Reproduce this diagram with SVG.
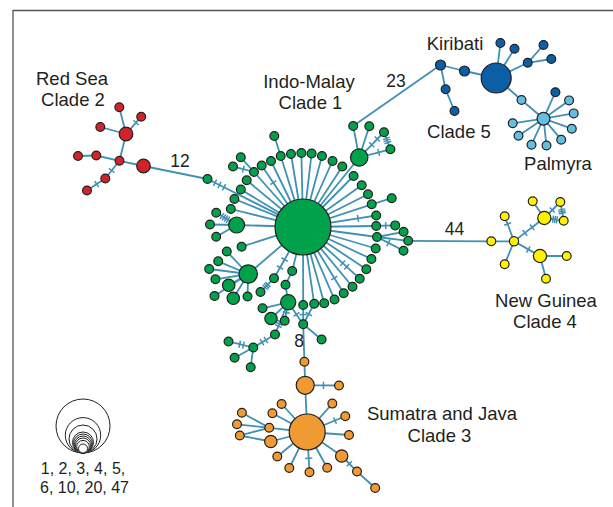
<svg xmlns="http://www.w3.org/2000/svg" width="613" height="507" viewBox="0 0 613 507">
<style>
.ln{stroke:#3f91b5;stroke-width:1.8;fill:none;stroke-linecap:round}
.tk{marker-mid:url(#tick)}
circle{stroke:#231f20;stroke-width:1.2}
.g{fill:#00a14b}.r{fill:#d2232a}.o{fill:#ef9a32}.b{fill:#0b5fa5}.c{fill:#63bfe0}.y{fill:#fff200}
.lg circle{fill:#fff;stroke-width:1}
text{font-family:"Liberation Sans",Arial,sans-serif;fill:#231f20;text-anchor:middle}
.lab{font-size:18.5px}.num{font-size:17.5px}.key{font-size:16px}
</style>
<defs>
<marker id="tick" viewBox="-4 -4 8 8" markerWidth="8" markerHeight="8" markerUnits="userSpaceOnUse" orient="auto"><path d="M0,-3.6V3.6" stroke="#3f91b5" stroke-width="1.5"/></marker>
</defs>
<rect width="613" height="507" fill="#fff"/>
<path d="M13,507V10.5H613" fill="none" stroke="#555" stroke-width="1.3"/>

<g id="connectors">
<!-- Red Sea -->
<line class="ln" x1="126" y1="134" x2="119.3" y2="107.3"/>
<polyline class="ln tk" points="126,134 136,122.6 141.2,116.7"/>
<line class="ln" x1="126" y1="134" x2="100.3" y2="127"/>
<line class="ln" x1="126" y1="134" x2="119.5" y2="160.8"/>
<line class="ln" x1="119.5" y1="160.8" x2="96.3" y2="155.5"/>
<line class="ln" x1="96.3" y1="155.5" x2="78" y2="156"/>
<line class="ln" x1="119.5" y1="160.8" x2="143.5" y2="166"/>
<polyline class="ln tk" points="119.5,160.8 111.7,170.5 105.3,178.5"/>
<polyline class="ln tk" points="105.3,178.5 96.7,184.1 87,190.5"/>
<line class="ln" x1="143.5" y1="166" x2="207.5" y2="179"/>
<!-- Indo-Malay: hub spokes -->
<polyline class="ln tk" points="207.5,179 215,182.8 219.5,185 224,187.3 303,227"/>
<line class="ln" x1="303" y1="227" x2="271" y2="161"/>
<line class="ln" x1="303" y1="227" x2="280.7" y2="156"/>
<line class="ln" x1="303" y1="227" x2="291" y2="154"/>
<line class="ln" x1="303" y1="227" x2="301.4" y2="153"/>
<line class="ln" x1="303" y1="227" x2="311.6" y2="153.5"/>
<line class="ln" x1="303" y1="227" x2="322" y2="156"/>
<line class="ln" x1="303" y1="227" x2="332.5" y2="161"/>
<line class="ln" x1="303" y1="227" x2="342.3" y2="166.5"/>
<polyline class="ln tk" points="303,227 273.3,182.7 261.7,165.5"/>
<line class="ln" x1="303" y1="227" x2="254" y2="172"/>
<line class="ln" x1="303" y1="227" x2="246.7" y2="180.3"/>
<line class="ln" x1="303" y1="227" x2="240.8" y2="189.5"/>
<line class="ln" x1="303" y1="227" x2="234.4" y2="199"/>
<line class="ln" x1="303" y1="227" x2="230.8" y2="209"/>
<line class="ln" x1="303" y1="227" x2="236.6" y2="225"/>
<line class="ln" x1="303" y1="227" x2="241.6" y2="246.7"/>
<line class="ln" x1="303" y1="227" x2="248.2" y2="274"/>
<polyline class="ln tk" points="303,227 284.6,259.5 280.1,267.5 274,278.3"/>
<line class="ln" x1="303" y1="227" x2="292.2" y2="271"/>
<line class="ln" x1="303" y1="227" x2="303.2" y2="305"/>
<line class="ln" x1="303" y1="227" x2="314.2" y2="303.8"/>
<line class="ln" x1="303" y1="227" x2="324.2" y2="303.3"/>
<line class="ln" x1="303" y1="227" x2="334.5" y2="299.5"/>
<polyline class="ln tk" points="303,227 334.3,278 343.7,293.2"/>
<line class="ln" x1="303" y1="227" x2="352.5" y2="286.8"/>
<polyline class="ln tk" points="303,227 342.7,263.2 346.7,266.8 359.7,278.7"/>
<line class="ln" x1="303" y1="227" x2="366.3" y2="269.3"/>
<line class="ln" x1="303" y1="227" x2="371.4" y2="259"/>
<line class="ln" x1="303" y1="227" x2="375.7" y2="248.5"/>
<line class="ln" x1="303" y1="227" x2="377" y2="237"/>
<line class="ln" x1="303" y1="227" x2="376.2" y2="226"/>
<polyline class="ln tk" points="303,227 358,218.4 376.2,215.5"/>
<line class="ln" x1="303" y1="227" x2="371.7" y2="204.3"/>
<line class="ln" x1="303" y1="227" x2="368" y2="194.3"/>
<line class="ln" x1="303" y1="227" x2="361.7" y2="185.3"/>
<line class="ln" x1="303" y1="227" x2="353.6" y2="176"/>
<line class="ln" x1="303" y1="227" x2="359.2" y2="157.5"/>
<!-- Indo-Malay: side branches -->
<line class="ln" x1="274.3" y1="136" x2="280.7" y2="156"/>
<line class="ln" x1="240.8" y1="157.3" x2="254" y2="172"/>
<polyline class="ln tk" points="233,166.5 243.3,169.2 254,172"/>
<polyline class="ln tk" points="216.2,212.7 221.9,216.1 223.95,217.4 226,218.6 228,219.8 236.6,225"/>
<line class="ln" x1="210" y1="224.5" x2="236.6" y2="225"/>
<line class="ln" x1="216.2" y1="236.7" x2="236.6" y2="225"/>
<line class="ln" x1="226.8" y1="251.5" x2="248.2" y2="274"/>
<line class="ln" x1="218.2" y1="261.3" x2="248.2" y2="274"/>
<line class="ln" x1="209.2" y1="269" x2="248.2" y2="274"/>
<line class="ln" x1="215.4" y1="279.3" x2="248.2" y2="274"/>
<line class="ln" x1="228.7" y1="285.3" x2="248.2" y2="274"/>
<line class="ln" x1="214.5" y1="296" x2="248.2" y2="274"/>
<line class="ln" x1="233.3" y1="298.3" x2="248.2" y2="274"/>
<line class="ln" x1="247.5" y1="296.5" x2="248.2" y2="274"/>
<polyline class="ln tk" points="260.5,292 265.2,287.2 266.6,285.8 267.9,284.5 274,278.3"/>
<line class="ln" x1="285.5" y1="284.8" x2="292.2" y2="271"/>
<line class="ln" x1="288.2" y1="302.3" x2="285.5" y2="284.8"/>
<line class="ln" x1="288.2" y1="302.3" x2="262.5" y2="308.3"/>
<line class="ln" x1="288.2" y1="302.3" x2="271" y2="318.5"/>
<polyline class="ln tk" points="288.2,302.3 286.3,312.5 284.7,320.8"/>
<polyline class="ln tk" points="288.2,302.3 280.3,321.6 279.4,323.9 278.4,326.1 275,334.5"/>
<polyline class="ln tk" points="275,334.5 265.9,340 262,342.3 253.3,347.5"/>
<polyline class="ln tk" points="253.3,347.5 243.4,345.1 239.7,344.2 228.5,341.5"/>
<line class="ln" x1="253.3" y1="347.5" x2="234.6" y2="357.7"/>
<line class="ln" x1="253.3" y1="347.5" x2="250.7" y2="367.2"/>
<polyline class="ln tk" points="303.2,324.3 303.2,314.6 303.2,305"/>
<polyline class="ln tk" points="303.2,324.3 308.7,314.05 314.2,303.8"/>
<polyline class="ln tk" points="303.2,324.3 296.45,314.4 288.2,302.3"/>
<line class="ln" x1="303.2" y1="324.3" x2="321.6" y2="339.5"/>
<line class="ln" x1="391.7" y1="198.2" x2="371.7" y2="204.3"/>
<polyline class="ln tk" points="376.2,226 385.7,225.7 395.2,225.4"/>
<line class="ln" x1="377" y1="237" x2="403.6" y2="231.8"/>
<line class="ln" x1="377" y1="237" x2="408.2" y2="240.8"/>
<polyline class="ln tk" points="377,237 388.4,242.9 403.5,250.8"/>
<line class="ln" x1="359.2" y1="157.5" x2="353.2" y2="126"/>
<line class="ln" x1="359.2" y1="157.5" x2="369.3" y2="126.2"/>
<polyline class="ln tk" points="359.2,157.5 371.7,144.8 377.3,139 384,132.2"/>
<polyline class="ln tk" points="359.2,157.5 378.7,152.4 390.4,149.3"/>
<polyline class="ln tk" points="384,132.2 386.3,138.4 387.1,140.4 387.8,142.5 390.4,149.3"/>
<!-- long links between clades -->
<line class="ln" x1="353.2" y1="126" x2="440.5" y2="65"/>
<line class="ln" x1="408.2" y1="240.8" x2="491.3" y2="241.3"/>
<line class="ln" x1="303.2" y1="324.3" x2="304.4" y2="361.8"/>
<!-- Clade 5 -->
<line class="ln" x1="440.5" y1="65" x2="464.5" y2="71"/>
<line class="ln" x1="464.5" y1="71" x2="496.2" y2="78"/>
<line class="ln" x1="440.5" y1="65" x2="445.6" y2="89.3"/>
<line class="ln" x1="445.6" y1="89.3" x2="454.5" y2="111"/>
<line class="ln" x1="496.2" y1="78" x2="500.4" y2="43"/>
<line class="ln" x1="496.2" y1="78" x2="514.5" y2="48.8"/>
<line class="ln" x1="496.2" y1="78" x2="527.7" y2="62.8"/>
<line class="ln" x1="527.7" y1="62.8" x2="543.5" y2="45"/>
<line class="ln" x1="527.7" y1="62.8" x2="551.3" y2="59"/>
<line class="ln" x1="496.2" y1="78" x2="521.5" y2="100"/>
<line class="ln" x1="521.5" y1="100" x2="543.5" y2="118.7"/>
<line class="ln" x1="543.5" y1="118.7" x2="555.4" y2="92.2"/>
<line class="ln" x1="543.5" y1="118.7" x2="569.1" y2="100.4"/>
<line class="ln" x1="543.5" y1="118.7" x2="573.7" y2="113.4"/>
<line class="ln" x1="543.5" y1="118.7" x2="571.8" y2="128.7"/>
<line class="ln" x1="543.5" y1="118.7" x2="561.2" y2="139.7"/>
<line class="ln" x1="543.5" y1="118.7" x2="546.5" y2="145.5"/>
<line class="ln" x1="543.5" y1="118.7" x2="531.5" y2="144.7"/>
<line class="ln" x1="543.5" y1="118.7" x2="518.5" y2="135.8"/>
<line class="ln" x1="543.5" y1="118.7" x2="512.7" y2="123.3"/>
<!-- Clade 4 -->
<line class="ln" x1="491.3" y1="241.3" x2="514" y2="241.3"/>
<polyline class="ln tk" points="514,241.3 507.6,224 504.7,216.3"/>
<polyline class="ln tk" points="514,241.3 524.9,232.9 532.2,227.3 544.3,218"/>
<line class="ln" x1="544.3" y1="218" x2="532.7" y2="201.3"/>
<polyline class="ln tk" points="544.3,218 552.3,210 560.3,202"/>
<polyline class="ln tk" points="544.3,218 553,219.2 555,219.5 556.9,219.8 563.7,220.7"/>
<polyline class="ln tk" points="560.3,202 561.7,209.5 562,211.35 562.3,213.2 563.7,220.7"/>
<polyline class="ln tk" points="514,241.3 528.3,249.4 540,256"/>
<line class="ln" x1="540" y1="256" x2="566.7" y2="256"/>
<line class="ln" x1="540" y1="256" x2="546" y2="278.7"/>
<line class="ln" x1="514" y1="241.3" x2="504.7" y2="264.3"/>
<!-- Clade 3 -->
<line class="ln" x1="304.4" y1="361.8" x2="305.2" y2="385.3"/>
<polyline class="ln tk" points="305.2,385.3 323.5,385.4 339,385.5"/>
<line class="ln" x1="305.2" y1="385.3" x2="307.2" y2="432"/>
<line class="ln" x1="307.2" y1="432" x2="332.3" y2="403.6"/>
<polyline class="ln tk" points="307.2,432 335,420.5 345.3,416.2"/>
<line class="ln" x1="307.2" y1="432" x2="349" y2="435"/>
<line class="ln" x1="307.2" y1="432" x2="341.7" y2="456"/>
<line class="ln" x1="307.2" y1="432" x2="327.2" y2="467.7"/>
<polyline class="ln tk" points="307.2,432 308.7,458.3 309.5,472.3"/>
<line class="ln" x1="307.2" y1="432" x2="289.3" y2="468"/>
<line class="ln" x1="307.2" y1="432" x2="277.3" y2="456.5"/>
<line class="ln" x1="307.2" y1="432" x2="270.8" y2="441.5"/>
<line class="ln" x1="307.2" y1="432" x2="269.2" y2="427.8"/>
<line class="ln" x1="307.2" y1="432" x2="272.4" y2="413.3"/>
<line class="ln" x1="307.2" y1="432" x2="281.6" y2="404"/>
<polyline class="ln tk" points="341.7,456 349.35,463.75 357,471.5"/>
<line class="ln" x1="357" y1="471.5" x2="375.2" y2="488"/>
<line class="ln" x1="241.9" y1="412.7" x2="269.2" y2="427.8"/>
<line class="ln" x1="237" y1="424.3" x2="269.2" y2="427.8"/>
<line class="ln" x1="239.8" y1="435.5" x2="269.2" y2="427.8"/>
<line class="ln" x1="239.8" y1="435.5" x2="270.8" y2="441.5"/>
</g>

<!-- Red Sea, clade 2 -->
<g id="r-b1"><circle class="r" cx="126" cy="134" r="6.8"/></g>
<g id="r-b2"><circle class="r" cx="143.5" cy="166" r="6.8"/></g>
<g id="r-j"><circle class="r" cx="119.5" cy="160.8" r="4.4"/></g>
<g id="r-1"><circle class="r" cx="119.3" cy="107.3" r="4.4"/></g>
<g id="r-2"><circle class="r" cx="141.2" cy="116.7" r="4.4"/></g>
<g id="r-3"><circle class="r" cx="100.3" cy="127" r="4.4"/></g>
<g id="r-4"><circle class="r" cx="96.3" cy="155.5" r="4.4"/></g>
<g id="r-5"><circle class="r" cx="78" cy="156" r="4.4"/></g>
<g id="r-6"><circle class="r" cx="105.3" cy="178.5" r="4.4"/></g>
<g id="r-7"><circle class="r" cx="87" cy="190.5" r="4.4"/></g>

<!-- Indo-Malay, clade 1 -->
<g id="g-hub"><circle class="g" cx="303" cy="227" r="28"/></g>
<g id="g-1"><circle class="g" cx="271" cy="161" r="4.4"/></g>
<g id="g-2"><circle class="g" cx="280.7" cy="156" r="4.4"/></g>
<g id="g-3"><circle class="g" cx="291" cy="154" r="4.4"/></g>
<g id="g-4"><circle class="g" cx="301.4" cy="153" r="4.4"/></g>
<g id="g-5"><circle class="g" cx="311.6" cy="153.5" r="4.4"/></g>
<g id="g-6"><circle class="g" cx="322" cy="156" r="4.4"/></g>
<g id="g-7"><circle class="g" cx="332.5" cy="161" r="4.4"/></g>
<g id="g-8"><circle class="g" cx="342.3" cy="166.5" r="4.4"/></g>
<g id="g-top"><circle class="g" cx="274.3" cy="136" r="4.4"/></g>
<g id="g-9"><circle class="g" cx="261.7" cy="165.5" r="4.4"/></g>
<g id="g-10"><circle class="g" cx="254" cy="172" r="4.4"/></g>
<g id="g-11"><circle class="g" cx="246.7" cy="180.3" r="4.4"/></g>
<g id="g-12"><circle class="g" cx="240.8" cy="189.5" r="4.4"/></g>
<g id="g-13"><circle class="g" cx="234.4" cy="199" r="4.4"/></g>
<g id="g-14"><circle class="g" cx="230.8" cy="209" r="4.4"/></g>
<g id="g-o1"><circle class="g" cx="240.8" cy="157.3" r="4.4"/></g>
<g id="g-o2"><circle class="g" cx="233" cy="166.5" r="4.4"/></g>
<g id="g-red"><circle class="g" cx="207.5" cy="179" r="4.4"/></g>
<g id="g-l1"><circle class="g" cx="236.6" cy="225" r="8"/></g>
<g id="g-l1a"><circle class="g" cx="216.2" cy="212.7" r="4.4"/></g>
<g id="g-l1b"><circle class="g" cx="210" cy="224.5" r="4.4"/></g>
<g id="g-l1c"><circle class="g" cx="216.2" cy="236.7" r="4.4"/></g>
<g id="g-15"><circle class="g" cx="241.6" cy="246.7" r="4.4"/></g>
<g id="g-l2"><circle class="g" cx="248.2" cy="274" r="9.2"/></g>
<g id="g-l2a"><circle class="g" cx="226.8" cy="251.5" r="4.4"/></g>
<g id="g-l2b"><circle class="g" cx="218.2" cy="261.3" r="4.4"/></g>
<g id="g-l2c"><circle class="g" cx="209.2" cy="269" r="4.4"/></g>
<g id="g-l2d"><circle class="g" cx="215.4" cy="279.3" r="4.4"/></g>
<g id="g-l2e"><circle class="g" cx="228.7" cy="285.3" r="6.2"/></g>
<g id="g-l2f"><circle class="g" cx="214.5" cy="296" r="4.4"/></g>
<g id="g-l2g"><circle class="g" cx="233.3" cy="298.3" r="6.2"/></g>
<g id="g-l2h"><circle class="g" cx="247.5" cy="296.5" r="4.4"/></g>
<g id="g-b1"><circle class="g" cx="274" cy="278.3" r="4.4"/></g>
<g id="g-b2"><circle class="g" cx="260.5" cy="292" r="4.4"/></g>
<g id="g-b3"><circle class="g" cx="292.2" cy="271" r="4.4"/></g>
<g id="g-b4"><circle class="g" cx="285.5" cy="284.8" r="4.4"/></g>
<g id="g-bb"><circle class="g" cx="288.2" cy="302.3" r="7.6"/></g>
<g id="g-b5"><circle class="g" cx="262.5" cy="308.3" r="4.4"/></g>
<g id="g-b6"><circle class="g" cx="271" cy="318.5" r="6.2"/></g>
<g id="g-b7"><circle class="g" cx="284.7" cy="320.8" r="4.4"/></g>
<g id="g-b8"><circle class="g" cx="275" cy="334.5" r="4.4"/></g>
<g id="g-b9"><circle class="g" cx="253.3" cy="347.5" r="4.4"/></g>
<g id="g-b10"><circle class="g" cx="228.5" cy="341.5" r="4.4"/></g>
<g id="g-b11"><circle class="g" cx="234.6" cy="357.7" r="4.4"/></g>
<g id="g-b12"><circle class="g" cx="250.7" cy="367.2" r="4.4"/></g>
<g id="g-16"><circle class="g" cx="303.2" cy="305" r="4.4"/></g>
<g id="g-17"><circle class="g" cx="314.2" cy="303.8" r="4.4"/></g>
<g id="g-18"><circle class="g" cx="324.2" cy="303.3" r="4.4"/></g>
<g id="g-19"><circle class="g" cx="334.5" cy="299.5" r="4.4"/></g>
<g id="g-20"><circle class="g" cx="343.7" cy="293.2" r="4.4"/></g>
<g id="g-21"><circle class="g" cx="352.5" cy="286.8" r="4.4"/></g>
<g id="g-22"><circle class="g" cx="359.7" cy="278.7" r="4.4"/></g>
<g id="g-23"><circle class="g" cx="366.3" cy="269.3" r="4.4"/></g>
<g id="g-24"><circle class="g" cx="371.4" cy="259" r="4.4"/></g>
<g id="g-25"><circle class="g" cx="375.7" cy="248.5" r="4.4"/></g>
<g id="g-26"><circle class="g" cx="377" cy="237" r="4.4"/></g>
<g id="g-27"><circle class="g" cx="376.2" cy="226" r="4.4"/></g>
<g id="g-28"><circle class="g" cx="376.2" cy="215.5" r="4.4"/></g>
<g id="g-29"><circle class="g" cx="371.7" cy="204.3" r="4.4"/></g>
<g id="g-30"><circle class="g" cx="368" cy="194.3" r="4.4"/></g>
<g id="g-31"><circle class="g" cx="361.7" cy="185.3" r="4.4"/></g>
<g id="g-32"><circle class="g" cx="353.6" cy="176" r="4.4"/></g>
<g id="g-o3"><circle class="g" cx="391.7" cy="198.2" r="4.4"/></g>
<g id="g-c1"><circle class="g" cx="395.2" cy="225.4" r="4.4"/></g>
<g id="g-c2"><circle class="g" cx="403.6" cy="231.8" r="4.4"/></g>
<g id="g-c3"><circle class="g" cx="408.2" cy="240.8" r="4.4"/></g>
<g id="g-c4"><circle class="g" cx="403.5" cy="250.8" r="4.4"/></g>
<g id="g-tr"><circle class="g" cx="359.2" cy="157.5" r="8.7"/></g>
<g id="g-tr1"><circle class="g" cx="353.2" cy="126" r="4.4"/></g>
<g id="g-tr2"><circle class="g" cx="369.3" cy="126.2" r="4.4"/></g>
<g id="g-tr3"><circle class="g" cx="384" cy="132.2" r="4.4"/></g>
<g id="g-tr4"><circle class="g" cx="390.4" cy="149.3" r="4.4"/></g>
<g id="g-s"><circle class="g" cx="303.2" cy="324.3" r="4.4"/></g>
<g id="g-s2"><circle class="g" cx="321.6" cy="339.5" r="4.4"/></g>

<!-- Kiribati / Palmyra, clade 5 -->
<g id="k-a"><circle class="b" cx="440.5" cy="65" r="5"/></g>
<g id="k-2"><circle class="b" cx="464.5" cy="71" r="5"/></g>
<g id="k-big"><circle class="b" cx="496.2" cy="78" r="15"/></g>
<g id="k-3"><circle class="b" cx="445.6" cy="89.3" r="4.4"/></g>
<g id="k-4"><circle class="b" cx="454.5" cy="111" r="4.4"/></g>
<g id="k-5"><circle class="b" cx="500.4" cy="43" r="4.4"/></g>
<g id="k-6"><circle class="b" cx="514.5" cy="48.8" r="4.4"/></g>
<g id="k-7"><circle class="b" cx="527.7" cy="62.8" r="4.4"/></g>
<g id="k-8"><circle class="b" cx="543.5" cy="45" r="4.4"/></g>
<g id="k-9"><circle class="b" cx="551.3" cy="59" r="4.4"/></g>
<g id="k-d"><circle class="b" cx="555.4" cy="92.2" r="4.4"/></g>
<g id="p-1"><circle class="c" cx="521.5" cy="100" r="4.4"/></g>
<g id="p-hub"><circle class="c" cx="543.5" cy="118.7" r="6.4"/></g>
<g id="p-2"><circle class="c" cx="569.1" cy="100.4" r="4.4"/></g>
<g id="p-3"><circle class="c" cx="573.7" cy="113.4" r="4.4"/></g>
<g id="p-4"><circle class="c" cx="571.8" cy="128.7" r="4.4"/></g>
<g id="p-5"><circle class="c" cx="561.2" cy="139.7" r="4.4"/></g>
<g id="p-6"><circle class="c" cx="546.5" cy="145.5" r="4.4"/></g>
<g id="p-7"><circle class="c" cx="531.5" cy="144.7" r="4.4"/></g>
<g id="p-8"><circle class="c" cx="518.5" cy="135.8" r="4.4"/></g>
<g id="p-9"><circle class="c" cx="512.7" cy="123.3" r="4.4"/></g>

<!-- New Guinea, clade 4 -->
<g id="y-1"><circle class="y" cx="491.3" cy="241.3" r="4.4"/></g>
<g id="y-hub"><circle class="y" cx="514" cy="241.3" r="4.6"/></g>
<g id="y-2"><circle class="y" cx="504.7" cy="216.3" r="4.4"/></g>
<g id="y-b1"><circle class="y" cx="544.3" cy="218" r="6.6"/></g>
<g id="y-3"><circle class="y" cx="532.7" cy="201.3" r="4.4"/></g>
<g id="y-4"><circle class="y" cx="560.3" cy="202" r="4.4"/></g>
<g id="y-5"><circle class="y" cx="563.7" cy="220.7" r="4.4"/></g>
<g id="y-b2"><circle class="y" cx="540" cy="256" r="6.6"/></g>
<g id="y-6"><circle class="y" cx="566.7" cy="256" r="4.4"/></g>
<g id="y-7"><circle class="y" cx="546" cy="278.7" r="4.4"/></g>
<g id="y-8"><circle class="y" cx="504.7" cy="264.3" r="4.4"/></g>

<!-- Sumatra and Java, clade 3 -->
<g id="o-1"><circle class="o" cx="304.4" cy="361.8" r="4.4"/></g>
<g id="o-b1"><circle class="o" cx="305.2" cy="385.3" r="9"/></g>
<g id="o-2"><circle class="o" cx="339" cy="385.5" r="4.4"/></g>
<g id="o-b2"><circle class="o" cx="307.2" cy="432" r="18"/></g>
<g id="o-3"><circle class="o" cx="332.3" cy="403.6" r="4.4"/></g>
<g id="o-4"><circle class="o" cx="345.3" cy="416.2" r="4.4"/></g>
<g id="o-5"><circle class="o" cx="349" cy="435" r="4.4"/></g>
<g id="o-m1"><circle class="o" cx="341.7" cy="456" r="6.2"/></g>
<g id="o-6"><circle class="o" cx="357" cy="471.5" r="4.4"/></g>
<g id="o-7"><circle class="o" cx="375.2" cy="488" r="4.4"/></g>
<g id="o-8"><circle class="o" cx="327.2" cy="467.7" r="4.4"/></g>
<g id="o-9"><circle class="o" cx="309.5" cy="472.3" r="4.4"/></g>
<g id="o-10"><circle class="o" cx="289.3" cy="468" r="4.4"/></g>
<g id="o-11"><circle class="o" cx="277.3" cy="456.5" r="4.4"/></g>
<g id="o-m2"><circle class="o" cx="270.8" cy="441.5" r="6.2"/></g>
<g id="o-12"><circle class="o" cx="269.2" cy="427.8" r="4.4"/></g>
<g id="o-13"><circle class="o" cx="272.4" cy="413.3" r="4.4"/></g>
<g id="o-14"><circle class="o" cx="281.6" cy="404" r="4.4"/></g>
<g id="o-15"><circle class="o" cx="241.9" cy="412.7" r="4.4"/></g>
<g id="o-16"><circle class="o" cx="237" cy="424.3" r="4.4"/></g>
<g id="o-17"><circle class="o" cx="239.8" cy="435.5" r="4.4"/></g>

<!-- labels -->
<g id="labels">
<text class="lab" x="72" y="85">Red Sea</text>
<text class="lab" x="73" y="106">Clade 2</text>
<text class="lab" x="309" y="87.5">Indo-Malay</text>
<text class="lab" x="310.5" y="108.5">Clade 1</text>
<text class="lab" x="455" y="49.5">Kiribati</text>
<text class="lab" x="459" y="138">Clade 5</text>
<text class="lab" x="558" y="170">Palmyra</text>
<text class="lab" x="546" y="307">New Guinea</text>
<text class="lab" x="545" y="328">Clade 4</text>
<text class="lab" x="442" y="420">Sumatra and Java</text>
<text class="lab" x="439.5" y="441.5">Clade 3</text>
<text class="num" x="180" y="166.5">12</text>
<text class="num" x="396" y="87">23</text>
<text class="num" x="454.5" y="235">44</text>
<text class="num" x="299" y="347">8</text>
</g>

<!-- size key -->
<g id="legend" class="lg">
<circle cx="83" cy="426" r="27"/>
<circle cx="83" cy="435.3" r="17.7"/>
<circle cx="83" cy="439" r="14"/>
<circle cx="83" cy="442.5" r="10.5"/>
<circle cx="83" cy="443.5" r="9.5"/>
<circle cx="83" cy="444.5" r="8.5"/>
<circle cx="83" cy="445.5" r="7.5"/>
<circle cx="83" cy="446.7" r="6.3"/>
<circle cx="83" cy="448.5" r="4.5"/>
<text class="key" x="83" y="474">1, 2, 3, 4, 5,</text>
<text class="key" x="84.5" y="492.5">6, 10, 20, 47</text>
</g>
</svg>
